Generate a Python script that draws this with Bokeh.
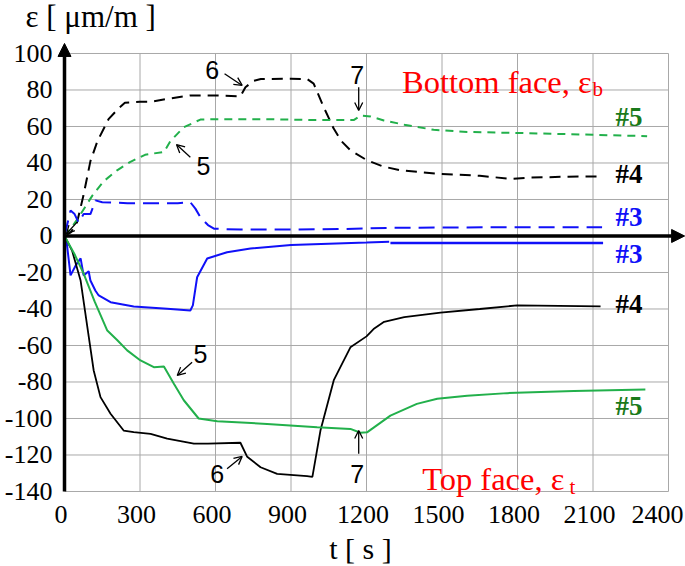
from bokeh.plotting import figure
from bokeh.models import Range1d, Label, Arrow, NormalHead, OpenHead
from bokeh.core.properties import value
from bokeh.embed import file_html
from bokeh.resources import INLINE

# ---------------- data ----------------
x_ticks = [0, 300, 600, 900, 1200, 1500, 1800, 2100, 2400]
y_ticks = [-140, -120, -100, -80, -60, -40, -20, 0, 20, 40, 60, 80, 100]

# bottom face (dashed)
t_b4 = [0, 25, 50, 75, 103, 131, 175, 215, 240, 300, 342, 400, 500, 600, 699, 719, 751, 780, 900, 964,
        990, 1030, 1069, 1100, 1136, 1203, 1268, 1335, 1494, 1650, 1772, 1850, 2000, 2130]
e_b4 = [0, 2, 7.6, 22, 41, 52, 64, 70, 73, 73.5, 73.5, 75, 77, 77, 76.5, 81.5, 85, 86, 86.2, 86,
        83.5, 70.6, 59, 52, 47, 41.4, 38, 36, 34, 33, 31.3, 32, 32.5, 32.6]

t_b5 = [0, 30, 64, 110, 156, 209, 260, 320, 342, 395, 421, 474, 540, 600, 800, 1000, 1149, 1177, 1216,
        1269, 1350, 1467, 1600, 1785, 2000, 2315]
e_b5 = [0, 5, 12, 22, 30, 36, 40.5, 44.5, 45, 46, 52, 59.6, 63.8, 64, 64, 63.5, 63.5, 66, 65.5,
        63.3, 61, 58.2, 57, 56.5, 55.8, 54.7]

t_b3 = [0, 24, 40, 56, 76, 103, 123, 150, 250, 350, 450, 500, 520, 540, 570, 594, 700, 900, 1100,
        1300, 1700, 2136]
e_b3 = [0, 14, 12, 7.4, 12, 12, 19.5, 18.5, 18, 18, 18, 18.5, 15, 10.3, 6, 4, 3.5, 3.5, 3.8,
        4.5, 4.8, 4.8]

# top face (solid)
t_t3a = [0, 10, 24, 45, 64, 76, 96, 103, 123, 136, 183, 275, 408, 500, 510, 527, 567, 646, 739, 900,
         1050, 1200, 1290]
e_t3a = [0, -5, -21.6, -16, -12.3, -21.6, -19.3, -24.4, -30, -32.6, -36.3, -38.6, -39.9, -40.8, -38,
         -22.6, -12.3, -8.9, -6.9, -5, -4.2, -3.6, -3.2]
t_t3b = [1295, 2140]
e_t3b = [-3.9, -3.9]

t_t4 = [0, 30, 64, 93, 116, 143, 183, 235, 275, 342, 408, 514, 570, 699, 726, 779, 845, 964, 985,
        1017, 1070, 1136, 1200, 1228, 1270, 1350, 1494, 1650, 1798, 2130]
e_t4 = [0, -8, -24.4, -52, -73.7, -88.3, -97.4, -106.6, -107.5, -108.4, -111, -113.8, -113.8, -113.3,
        -121, -126.7, -130.3, -131.6, -132, -106.6, -79, -61, -55, -51, -47, -44.5, -42, -40, -38, -38.6]

t_t5 = [0, 40, 76, 120, 170, 209, 249, 302, 355, 395, 434, 474, 533, 607, 805, 1004, 1136, 1176, 1202,
        1295, 1400, 1481, 1600, 1759, 2024, 2308]
e_t5 = [0, -10, -20.6, -36, -51.8, -57, -62.7, -68.2, -71.9, -71.5, -80.8, -90, -100, -101.5, -103,
        -104.8, -105.7, -107.8, -107.6, -98.4, -92, -89.2, -87.5, -86.1, -85, -84.1]

# ---------------- styles ----------------
BLACK = "#000000"
GREEN = "#22B04B"
GREEN_TXT = "#1A7A1A"
BLUE = "#1010F8"
RED = "#FF0000"
GRID = "#A8A8A8"
SERIF = "Liberation Serif"
SANS = "Liberation Sans"

p = figure(width=685, height=566, x_range=Range1d(-254.3, 2467.5), y_range=Range1d(-181.1, 129.04),
           output_backend="svg", toolbar_location=None,
           x_axis_location=None, y_axis_location=None, min_border=0)
p.outline_line_color = None
p.grid.visible = False
p.background_fill_color = "white"

# grid lines over the 0..2400 / -140..100 box
xmax = x_ticks[-1]
p.segment(x0=[0] * len(y_ticks), x1=[xmax] * len(y_ticks), y0=y_ticks, y1=y_ticks,
          line_color=GRID, line_width=1)
p.segment(x0=x_ticks[1:], x1=x_ticks[1:], y0=[y_ticks[0]] * (len(x_ticks) - 1),
          y1=[y_ticks[-1]] * (len(x_ticks) - 1), line_color=GRID, line_width=1)

# tick labels (last x label pulled in so it stays on the page)
x_lab_off = [-3.5 if v < xmax else -11 for v in x_ticks]
p.text(x=x_ticks, y=[-152.6] * len(x_ticks), text=[str(v) for v in x_ticks],
       x_offset=x_lab_off,
       text_font=value(SERIF), text_font_size="26px", text_align="center",
       text_baseline="middle", text_color="black")
p.text(x=[-47.7] * len(y_ticks), y=y_ticks, text=[str(v) for v in y_ticks],
       text_font=value(SERIF), text_font_size="26px", text_align="right",
       text_baseline="middle", text_color="black")

# curves
p.line(t_b4, e_b4, line_color=BLACK, line_width=2, line_dash="11 7")
p.line(t_b5, e_b5, line_color=GREEN, line_width=2, line_dash="8 6")
p.line(t_b3, e_b3, line_color=BLUE, line_width=2, line_dash="16 8")
p.line(t_t3a, e_t3a, line_color=BLUE, line_width=2)
p.line(t_t3b, e_t3b, line_color=BLUE, line_width=2.5)
p.line(t_t4, e_t4, line_color=BLACK, line_width=1.8)
p.line(t_t5, e_t5, line_color=GREEN, line_width=2)

# axes with arrows
p.add_layout(Arrow(end=NormalHead(size=13, fill_color="black", line_color="black"),
                   x_start=0, y_start=y_ticks[0], x_end=0, y_end=105.5, line_width=3.5))
p.add_layout(Arrow(end=NormalHead(size=13, fill_color="black", line_color="black"),
                   x_start=0, y_start=0, x_end=2464, y_end=0, line_width=3.5))

# annotation arrows
ann_arrows = [
    (636, 88.9, 706, 82.5),
    (1169, 81.5, 1169, 68.8),
    (500, 43.2, 445, 50.1),
    (507, -69.2, 448, -76.4),
    (646, -127.6, 706, -120.8),
    (1169, -119.3, 1169, -106.6),
    (50, 7.6, 8, 1.2),
]
for xs, ys, xe, ye in ann_arrows:
    p.add_layout(Arrow(end=OpenHead(size=8, line_width=1.3), x_start=xs, y_start=ys,
                       x_end=xe, y_end=ye, line_width=1.3))

num_labels = [("6", 587, 90.7), ("7", 1163, 88), ("5", 552, 38.6),
              ("5", 540, -64.5), ("6", 607, -130.3), ("7", 1163, -130.3)]
for txt, x, y in num_labels:
    p.add_layout(Label(x=x, y=y, text=txt, text_font=SANS, text_font_size="25px",
                       text_align="center", text_baseline="middle", text_color="black"))

series_labels = [("#5", 65, GREEN_TXT), ("#4", 33.7, BLACK), ("#3", 10.4, BLUE),
                 ("#3", -9.9, BLUE), ("#4", -37.5, BLACK), ("#5", -92.9, GREEN_TXT)]
for txt, y, c in series_labels:
    p.add_layout(Label(x=2189, y=y, text=txt, text_font=SERIF, text_font_size="27px",
                       text_font_style="bold", text_align="left", text_baseline="middle",
                       text_color=c))

# face labels with subscripts
p.add_layout(Label(x=1341, y=84.3, text="Bottom face, ε", text_font=SERIF, text_font_size="32.5px",
                   text_align="left", text_baseline="alphabetic", text_color=RED))
p.add_layout(Label(x=2098, y=80.3, text="b", text_font=SERIF, text_font_size="21px",
                   text_align="left", text_baseline="alphabetic", text_color=RED))
p.add_layout(Label(x=1421, y=-133, text="Top face, ε", text_font=SERIF, text_font_size="32.5px",
                   text_align="left", text_baseline="alphabetic", text_color=RED))
p.add_layout(Label(x=2007, y=-137.8, text="t", text_font=SERIF, text_font_size="21px",
                   text_align="left", text_baseline="alphabetic", text_color=RED))

# axis titles
p.add_layout(Label(x=-155, y=120.3, text="ε [ μm/m ]", text_font=SERIF, text_font_size="31px",
                   text_align="left", text_baseline="middle", text_color="black"))
p.add_layout(Label(x=1176, y=-171.5, text="t [ s ]", text_font=SERIF, text_font_size="30px",
                   text_align="center", text_baseline="middle", text_color="black"))

open("out.html", "w").write(file_html(p, INLINE))
